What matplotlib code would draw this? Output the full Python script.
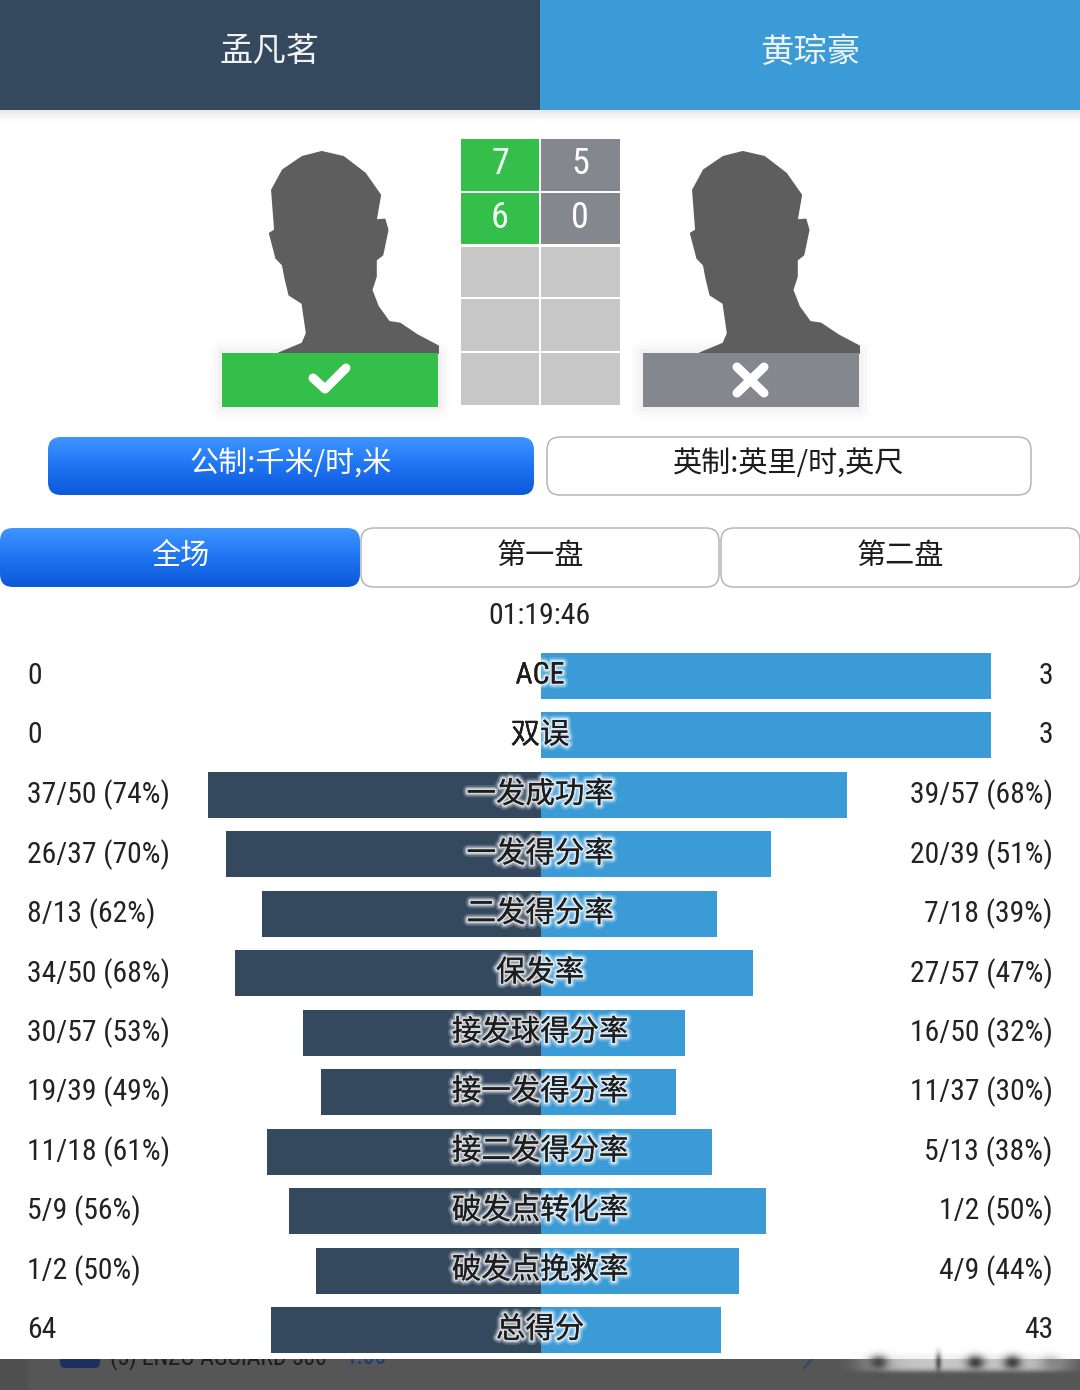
import numpy as np
import matplotlib
matplotlib.use("Agg")
import matplotlib.pyplot as plt
import matplotlib.patheffects as pe
from matplotlib.patches import Rectangle, FancyBboxPatch, Polygon
from matplotlib.colors import LinearSegmentedColormap
import logging
logging.getLogger('matplotlib.font_manager').setLevel(logging.ERROR)

NARROW = ['Roboto Condensed', 'Archivo Narrow', 'PT Sans Narrow', 'Noto Sans CJK SC', 'DejaVu Sans']
CJK = ['Noto Sans CJK SC', 'DejaVu Sans']
plt.rcParams['font.family'] = NARROW

players = ['孟凡茗', '黄琮豪']
sets_a = ['7', '6', '', '', '']
sets_b = ['5', '0', '', '', '']
unit_labels = ['公制:千米/时,米', '英制:英里/时,英尺']
tab_labels = ['全场', '第一盘', '第二盘']
duration = '01:19:46'
stats = ['ACE', '双误', '一发成功率', '一发得分率', '二发得分率', '保发率',
         '接发球得分率', '接一发得分率', '接二发得分率', '破发点转化率', '破发点挽救率', '总得分']
left_text = ['0', '0', '37/50 (74%)', '26/37 (70%)', '8/13 (62%)', '34/50 (68%)',
             '30/57 (53%)', '19/39 (49%)', '11/18 (61%)', '5/9 (56%)', '1/2 (50%)', '64']
right_text = ['3', '3', '39/57 (68%)', '20/39 (51%)', '7/18 (39%)', '27/57 (47%)',
              '16/50 (32%)', '11/37 (30%)', '5/13 (38%)', '1/2 (50%)', '4/9 (44%)', '43']
left_pct = [0, 0, 74, 70, 62, 68, 53, 49, 61, 56, 50, 60]
right_pct = [100, 100, 68, 51, 39, 47, 32, 30, 38, 50, 44, 40]

DARK, BLUE = '#34495e', '#3b9bd6'
GREEN, GRAY, LIGHT, HEAD = '#33bf4a', '#85878e', '#c7c7c7', '#5e5e5e'

fig = plt.figure(figsize=(10.8, 13.9), dpi=100, facecolor='white')
bg = fig.add_axes([0, 0, 1, 1])
bg.set_xlim(0, 1080)
bg.set_ylim(1390, 0)
bg.axis('off')


def gradient(x0, x1, y0, y1, colors, z=1, clip=None):
    cm = LinearSegmentedColormap.from_list('g', colors)
    im = bg.imshow(np.linspace(0, 1, 128)[:, None], extent=(x0, x1, y1, y0), cmap=cm,
                   aspect='auto', zorder=z, interpolation='bilinear')
    if clip is not None:
        im.set_clip_path(clip)
    return im


def button(x0, x1, y0, y1, label, active, dy=-1, size=21):
    p = FancyBboxPatch((x0 + 13, y0 + 13), x1 - x0 - 26, y1 - y0 - 26,
                       boxstyle='round,pad=13,rounding_size=13',
                       fc='none' if active else 'white', ec='#b5b5b5' if not active else 'none',
                       lw=1.1, zorder=3, mutation_aspect=1)
    bg.add_patch(p)
    if active:
        gradient(x0, x1, y0, y1, ['#3f95ff', '#1f74f2', '#0b58d8'], z=3, clip=p)
    bg.text((x0 + x1) / 2, (y0 + y1) / 2 + dy, label, ha='center', va='center',
            fontsize=size, color='white' if active else '#1c1c1c', zorder=4, family=CJK)


# Header
bg.add_patch(Rectangle((0, 0), 540, 110, fc=DARK, ec='none', zorder=2))
bg.add_patch(Rectangle((540, 0), 540, 110, fc=BLUE, ec='none', zorder=2))
gradient(0, 1080, 110, 122, ['#e8e8e8', '#ffffff'], z=1)
for x, name in zip((270, 810), players):
    bg.text(x, 52, name, ha='center', va='center', fontsize=24, color='#f2f2f2', zorder=3, family=CJK)

# Silhouettes
outline = np.array([(180, 700), (235, 670), (245, 640), (235, 550), (205, 525), (195, 470), (190, 435),
                    (175, 415), (160, 340), (172, 330), (165, 210), (190, 150), (235, 110), (280, 95),
                    (330, 110), (380, 160), (415, 225), (405, 300), (425, 298), (432, 330), (420, 405),
                    (405, 420), (405, 470), (395, 510), (410, 560), (435, 605), (460, 610), (500, 645),
                    (548, 678), (548, 700)], float) / (2.3, 3.0) + (200, 120)
for dx in (0, 421):
    bg.add_patch(Polygon(outline + (dx, 0), closed=True, fc=HEAD, ec=HEAD, lw=1, joinstyle='round', zorder=2))
    for grow, a in ((12, .012), (8, .016), (4, .025)):
        bg.add_patch(FancyBboxPatch((222 + dx, 353), 216, 54, boxstyle=f'round,pad={grow},rounding_size={grow}',
                                    fc='black', ec='none', alpha=a, zorder=1))
bg.add_patch(Rectangle((222, 353), 216, 54, fc=GREEN, ec='none', zorder=3))
bg.add_patch(Rectangle((643, 353), 216, 54, fc=GRAY, ec='none', zorder=3))
bg.plot([313, 325, 346], [378, 389, 368], color='white', lw=6.5, solid_capstyle='round',
        solid_joinstyle='round', zorder=4)
bg.plot([737, 764], [367, 393], color='white', lw=6.5, solid_capstyle='round', zorder=4)
bg.plot([764, 737], [367, 393], color='white', lw=6.5, solid_capstyle='round', zorder=4)

# Score grid
row_tops = [139, 193, 247, 299, 353]
row_bots = [191, 244, 297, 351, 405]
for top, bot, a, b in zip(row_tops, row_bots, sets_a, sets_b):
    bg.add_patch(Rectangle((461, top), 78, bot - top, fc=GREEN if a else LIGHT, ec='none', zorder=2))
    bg.add_patch(Rectangle((541, top), 79, bot - top, fc=GRAY if b else LIGHT, ec='none', zorder=2))
    bg.text(500, (top + bot) / 2 - 1, a, ha='center', va='center', fontsize=26, color='#f4fff4', zorder=3)
    bg.text(580, (top + bot) / 2 - 1, b, ha='center', va='center', fontsize=26, color='white', zorder=3)

# Buttons
button(48, 534, 437, 495, unit_labels[0], True)
button(547, 1031, 437, 495, unit_labels[1], False)
button(0, 360, 528, 587, tab_labels[0], True, dy=-2)
button(361, 719, 528, 587, tab_labels[1], False, dy=-2)
button(721, 1080, 528, 587, tab_labels[2], False, dy=-2)
bg.text(540, 616, duration, ha='center', va='center', fontsize=21.5, color='#222222', zorder=3)

# Bottom strip
bg.add_patch(Rectangle((0, 1359), 1080, 31, fc='#565656', ec='none', zorder=1))
bg.add_patch(Rectangle((0, 1359), 28, 31, fc='#505050', ec='none', zorder=1.1))
bg.text(110, 1358, '(5) ENZO AGUIARD 500', ha='left', va='center', fontsize=17, color='#1b1b1b', zorder=1.2)
bg.text(345, 1358, '1.00', ha='left', va='center', fontsize=17, color='#15397a', zorder=1.2)
bg.add_patch(FancyBboxPatch((60, 1345), 40, 23, boxstyle='round,pad=0,rounding_size=5',
                            fc='#1d2f5c', ec='none', zorder=1.2))
bg.plot([804, 818], [1368, 1352], color='#2b4a6b', lw=1.6, zorder=1.2)
bg.add_patch(Rectangle((0, 1325), 1080, 34, fc='white', ec='none', zorder=1.3))

# Blurred smudge at the right of the strip, drawn as one soft image
gx, gy = np.meshgrid(np.arange(840, 1080), np.arange(1340, 1390))
veil = np.exp(-(((gx - 965) / 100) ** 6 + ((gy - 1362) / 9) ** 4))
blob = np.zeros_like(veil, dtype=float)
for cx, sx, sy, amp in ((878, 9, 7, .85), (938, 3, 9, .8), (975, 9, 7, .95), (1012, 9, 7, .95), (1050, 10, 7, .25)):
    blob += amp * np.exp(-(((gx - cx) / sx) ** 2 + ((gy - 1362) / sy) ** 2))
veil_rgba = np.dstack([np.full_like(veil, .93), np.full_like(veil, .93), np.full_like(veil, .93), veil * .75])
blob_rgba = np.dstack([np.full_like(veil, .22), np.full_like(veil, .22), np.full_like(veil, .22), np.clip(blob, 0, 1)])
bg.imshow(veil_rgba, extent=(840, 1080, 1390, 1340), aspect='auto', zorder=1.35, interpolation='bilinear')
bg.imshow(blob_rgba, extent=(840, 1080, 1390, 1340), aspect='auto', zorder=1.4, interpolation='bilinear')
bg.set_xlim(0, 1080)
bg.set_ylim(1390, 0)

# Stat bars: percent scale with 4.5 px per percent, split at x = 541
PITCH = 59.45
ax = fig.add_axes([0, 0, 1, 1], facecolor='none')
ax.set_xlim(-541 / 4.5, 539 / 4.5)
ax.set_ylim((1390 - 676) / PITCH, -676 / PITCH)
ax.axis('off')
y = np.arange(len(stats))
ax.barh(y, -np.array(left_pct), height=46 / PITCH, color=DARK, zorder=2)
ax.barh(y, right_pct, height=46 / PITCH, color=BLUE, zorder=2)
halo = [pe.withStroke(linewidth=7, foreground='white', alpha=.18),
        pe.withStroke(linewidth=4.5, foreground='white', alpha=.35),
        pe.withStroke(linewidth=2.5, foreground='white', alpha=.6),
        pe.Normal()]
for i in y:
    is_latin = stats[i].isascii()
    ax.text(-0.22, i - .01, stats[i], ha='center', va='center', fontsize=21.5 if is_latin else 21.2,
            color='#1d1d1d', zorder=3, family=NARROW if is_latin else CJK, path_effects=halo)
    ax.text((27 - 541) / 4.5, i, left_text[i], ha='left', va='center', fontsize=21.3, color='#222222', zorder=3)
    ax.text((1053 - 541) / 4.5, i, right_text[i], ha='right', va='center', fontsize=21.3, color='#222222', zorder=3)

fig.savefig('out.png', dpi=100)
